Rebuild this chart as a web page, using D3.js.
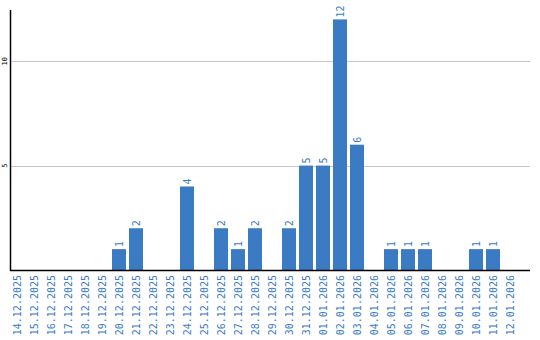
<!DOCTYPE html>
<html>
<head>
<meta charset="utf-8">
<script src="https://cdn.jsdelivr.net/npm/d3@7"></script>
<style>
  body { margin: 0; background: #fff; }
  svg { display: block; }
</style>
</head>
<body>
<div id="chart"></div>
<script>
var dates = ["14.12.2025","15.12.2025","16.12.2025","17.12.2025","18.12.2025","19.12.2025",
  "20.12.2025","21.12.2025","22.12.2025","23.12.2025","24.12.2025","25.12.2025","26.12.2025",
  "27.12.2025","28.12.2025","29.12.2025","30.12.2025","31.12.2025","01.01.2026","02.01.2026",
  "03.01.2026","04.01.2026","05.01.2026","06.01.2026","07.01.2026","08.01.2026","09.01.2026",
  "10.01.2026","11.01.2026","12.01.2026"];
var counts = [0,0,0,0,0,0, 1,2,0,0,4,0,2, 1,2,0,2,5,5,12, 6,0,1,1,1,0,0, 1,1,0];
var yTicks = [5, 10];

var width = 540, height = 340;
var blue = "#3a7bc4";
var font = "'DejaVu Sans Mono', monospace";

var svg = d3.select("#chart").append("svg")
    .attr("width", width)
    .attr("height", height);

var x = d3.scaleBand()
    .domain(dates)
    .range([10, 517])
    .paddingInner(3 / 17)
    .paddingOuter(0);

var y = d3.scaleLinear()
    .domain([0, 12.45])
    .range([270, 10]);

// grid
svg.selectAll(".grid")
    .data(yTicks)
    .enter().append("line")
    .attr("x1", 10).attr("x2", 530)
    .attr("y1", function(d) { return Math.round(y(d)) + 0.5; })
    .attr("y2", function(d) { return Math.round(y(d)) + 0.5; })
    .attr("stroke", "#c8c8c8")
    .attr("stroke-width", 1);

// only days with counts get a bar
var items = dates.map(function(d, i) { return {date: d, value: counts[i]}; })
    .filter(function(d) { return d.value > 0; });

svg.selectAll(".bar")
    .data(items)
    .enter().append("rect")
    .attr("class", "bar")
    .attr("x", function(d) { return x(d.date); })
    .attr("y", function(d) { return y(d.value); })
    .attr("width", x.bandwidth())
    .attr("height", function(d) { return y(0) - y(d.value); })
    .attr("fill", blue);

// value labels
svg.selectAll(".val")
    .data(items)
    .enter().append("text")
    .attr("transform", function(d) {
        return "translate(" + (x(d.date) + x.bandwidth() / 2 + 4) + "," + (y(d.value) - 2) + ") rotate(-90)";
    })
    .attr("text-anchor", "start")
    .attr("font-family", font)
    .attr("font-size", "10px")
    .attr("fill", blue)
    .text(function(d) { return d.value; });

// axes lines
svg.append("line")
    .attr("x1", 10.5).attr("x2", 10.5)
    .attr("y1", 10).attr("y2", 271)
    .attr("stroke", "#000").attr("stroke-width", 1.5);
svg.append("line")
    .attr("x1", 10).attr("x2", 530)
    .attr("y1", 270.5).attr("y2", 270.5)
    .attr("stroke", "#000").attr("stroke-width", 1.5);

// y tick labels
svg.selectAll(".ytick")
    .data(yTicks)
    .enter().append("text")
    .attr("transform", function(d) { return "translate(7," + y(d) + ") rotate(-90)"; })
    .attr("text-anchor", "middle")
    .attr("font-family", font)
    .attr("font-size", "7px")
    .attr("fill", "#000")
    .text(function(d) { return d; });

// x labels
svg.selectAll(".xlab")
    .data(dates)
    .enter().append("text")
    .attr("transform", function(d) {
        return "translate(" + (x(d) + x.bandwidth() / 2 + 4) + ",275) rotate(-90)";
    })
    .attr("text-anchor", "end")
    .attr("font-family", font)
    .attr("font-size", "10px")
    .attr("fill", blue)
    .text(function(d) { return d; });
</script>
</body>
</html>
